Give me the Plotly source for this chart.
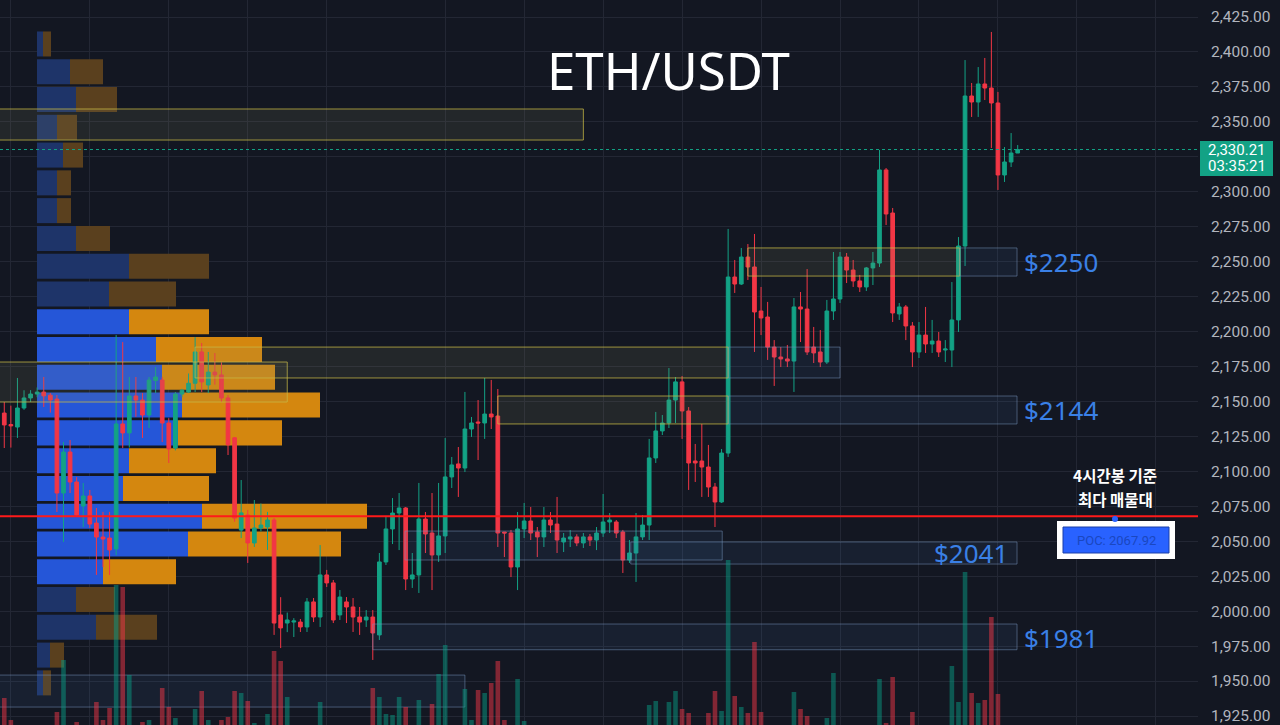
import plotly.graph_objects as go

# ---------------- candle data (4h ETH/USDT) ----------------
opens = [2141.7, 2133.5, 2131.7, 2145.3, 2152.5, 2155.3, 2156.7, 2154.5, 2151.7, 2084.5,
         2113.8, 2092.4, 2075.2, 2082.4, 2063.0, 2053.0, 2052.3, 2044.5, 2133.9, 2127.5,
         2153.9, 2151.0, 2140.3, 2165.0, 2165.3, 2134.6, 2116.7, 2155.3, 2156.7, 2163.0,
         2185.4, 2161.8, 2171.0, 2169.0, 2152.5, 2124.0, 2058.0, 2068.8, 2048.8, 2059.5,
         2060.2, 2065.2, 1997.3, 1991.5, 1992.2, 1992.2, 1988.7, 2006.6, 1995.8, 2025.9,
         2020.2, 1997.3, 2006.6, 2003.0, 1995.8, 1993.7, 1995.8, 1983.0, 2035.2, 2058.8,
         2070.2, 2073.8, 2023.0, 2025.9, 2065.9, 2055.9, 2040.2, 2053.8, 2096.0, 2105.3,
         2102.4, 2130.3, 2135.3, 2134.6, 2141.0, 2139.6, 2056.6, 2055.9, 2031.6, 2058.8,
         2064.5, 2056.6, 2053.1, 2065.2, 2062.3, 2049.5, 2051.6, 2053.1, 2048.8, 2053.1,
         2050.9, 2055.9, 2063.8, 2063.8, 2056.6, 2036.6, 2041.6, 2053.1, 2061.6, 2109.6,
         2128.9, 2134.6, 2151.0, 2164.0, 2143.2, 2107.4, 2107.4, 2103.1, 2088.8, 2078.1,
         2113.1, 2239.0, 2234.0, 2253.3, 2246.2, 2214.7, 2210.4, 2188.9, 2181.8, 2180.4,
         2178.9, 2217.6, 2216.1, 2188.9, 2185.4, 2178.2, 2214.7, 2223.3, 2253.3, 2244.0,
         2236.2, 2231.9, 2245.5, 2249.0, 2315.6, 2284.8, 2212.6, 2217.6, 2204.0, 2185.4,
         2197.5, 2191.1, 2193.2, 2186.8, 2186.8, 2208.3, 2261.2, 2368.5, 2364.2, 2377.1,
         2374.2, 2363.5, 2312.0, 2321.3, 2327.7]
highs = [2149.6, 2147.0, 2166.8, 2158.0, 2158.1, 2160.0, 2167.5, 2156.0, 2154.6, 2121.0,
         2122.4, 2095.9, 2091.7, 2086.7, 2073.8, 2071.0, 2071.0, 2197.5, 2192.5, 2167.5,
         2167.5, 2156.0, 2167.5, 2174.6, 2167.5, 2138.0, 2156.7, 2159.0, 2170.0, 2196.0,
         2191.8, 2185.4, 2184.6, 2178.0, 2154.6, 2124.6, 2093.8, 2072.4, 2079.5, 2077.0,
         2071.0, 2066.6, 2010.0, 1999.0, 1995.0, 1994.4, 2009.4, 2009.4, 2047.3, 2029.5,
         2022.3, 2015.1, 2010.1, 2009.4, 2003.0, 2000.8, 2000.8, 2041.6, 2068.1, 2080.9,
         2084.5, 2074.5, 2041.6, 2091.7, 2070.9, 2084.5, 2091.7, 2123.9, 2110.3, 2117.4,
         2156.8, 2138.9, 2151.0, 2166.8, 2165.4, 2158.9, 2056.6, 2058.1, 2070.9, 2077.4,
         2074.5, 2060.2, 2074.5, 2070.9, 2081.7, 2055.9, 2058.0, 2055.0, 2055.9, 2055.2,
         2060.2, 2083.8, 2070.2, 2065.2, 2058.1, 2050.9, 2070.2, 2068.8, 2123.2, 2142.5,
         2140.3, 2173.9, 2167.5, 2168.2, 2146.0, 2119.6, 2133.9, 2118.9, 2091.7, 2116.0,
         2273.4, 2251.2, 2259.8, 2262.6, 2269.8, 2231.9, 2221.2, 2193.9, 2188.9, 2190.4,
         2224.0, 2228.3, 2244.7, 2203.3, 2201.1, 2222.6, 2256.9, 2256.9, 2256.2, 2251.2,
         2240.5, 2246.2, 2256.9, 2329.9, 2317.0, 2288.4, 2220.4, 2219.0, 2206.8, 2206.8,
         2217.6, 2208.3, 2199.7, 2193.9, 2235.4, 2267.6, 2394.2, 2377.8, 2389.2, 2395.7,
         2414.3, 2371.4, 2332.0, 2342.0, 2333.4]
lows = [2116.7, 2117.0, 2123.9, 2144.0, 2149.6, 2153.0, 2146.0, 2142.0, 2070.9, 2049.5,
        2084.5, 2067.4, 2060.2, 2059.5, 2025.9, 2031.6, 2025.9, 2040.0, 2116.7, 2117.0,
        2139.0, 2123.9, 2131.0, 2156.0, 2121.0, 2106.0, 2115.0, 2153.0, 2156.0, 2156.7,
        2156.7, 2156.0, 2162.0, 2149.6, 2111.7, 2064.0, 2052.3, 2034.5, 2045.9, 2057.0,
        2043.8, 1983.0, 1973.6, 1985.0, 1981.5, 1985.1, 1985.1, 1992.2, 1988.7, 2017.3,
        1991.5, 1993.7, 1991.5, 1985.1, 1983.0, 1988.7, 1965.1, 1979.4, 2033.0, 2048.0,
        2043.7, 2015.1, 2016.6, 2013.0, 2041.6, 2015.1, 2035.2, 2041.6, 2088.1, 2081.7,
        2099.5, 2124.6, 2108.1, 2123.2, 2130.3, 2045.9, 2038.7, 2024.4, 2015.1, 2052.3,
        2050.9, 2038.7, 2045.9, 2055.9, 2041.6, 2042.3, 2045.9, 2046.5, 2045.2, 2046.6,
        2043.7, 2053.1, 2055.9, 2052.3, 2027.3, 2034.5, 2020.9, 2050.9, 2050.9, 2106.0,
        2126.0, 2131.0, 2134.6, 2123.2, 2086.7, 2092.4, 2081.7, 2081.7, 2060.2, 2077.4,
        2110.3, 2227.6, 2233.3, 2236.9, 2185.4, 2197.5, 2179.7, 2161.1, 2174.6, 2174.6,
        2156.8, 2192.5, 2183.2, 2177.5, 2174.6, 2176.8, 2208.3, 2220.4, 2234.7, 2231.9,
        2228.3, 2229.0, 2233.3, 2246.2, 2276.2, 2206.8, 2208.3, 2193.9, 2174.6, 2181.1,
        2184.7, 2184.7, 2181.8, 2178.2, 2174.6, 2199.7, 2246.9, 2353.5, 2353.5, 2365.6,
        2331.3, 2301.3, 2307.0, 2317.7, 2327.7]
closes = [2133.2, 2132.5, 2145.3, 2152.5, 2155.3, 2156.7, 2154.0, 2151.0, 2084.5, 2113.8,
          2092.4, 2068.8, 2082.4, 2062.3, 2053.0, 2051.6, 2043.8, 2133.9, 2127.5, 2153.9,
          2151.0, 2140.3, 2165.3, 2167.5, 2134.6, 2116.0, 2155.3, 2158.0, 2163.0, 2185.4,
          2164.0, 2171.0, 2169.0, 2152.5, 2119.0, 2066.6, 2070.3, 2048.8, 2059.5, 2061.6,
          2065.2, 1991.5, 1988.0, 1993.7, 1993.0, 1988.7, 2006.6, 1995.8, 2025.9, 2020.2,
          1993.7, 2010.1, 2003.0, 1995.8, 1992.2, 1995.8, 1984.4, 2035.2, 2058.8, 2070.2,
          2073.8, 2023.0, 2025.9, 2065.9, 2055.2, 2040.2, 2053.8, 2096.0, 2104.6, 2102.4,
          2130.3, 2134.6, 2134.6, 2141.0, 2138.9, 2055.9, 2055.9, 2031.6, 2058.8, 2064.5,
          2055.9, 2053.1, 2065.2, 2061.6, 2050.9, 2052.3, 2053.1, 2048.8, 2053.1, 2050.9,
          2055.9, 2063.8, 2065.2, 2055.9, 2036.6, 2041.6, 2053.1, 2061.6, 2109.6, 2128.9,
          2134.6, 2151.0, 2164.0, 2143.2, 2106.0, 2106.0, 2103.1, 2088.8, 2078.1, 2113.1,
          2239.0, 2234.0, 2253.3, 2246.2, 2214.0, 2209.7, 2188.9, 2181.8, 2180.4, 2178.9,
          2217.6, 2216.1, 2185.4, 2184.7, 2178.2, 2214.7, 2223.3, 2253.3, 2244.0, 2236.2,
          2231.9, 2245.5, 2249.0, 2315.6, 2284.1, 2213.3, 2217.6, 2204.0, 2185.4, 2197.5,
          2191.1, 2193.2, 2185.4, 2187.5, 2208.3, 2261.2, 2368.5, 2364.2, 2377.1, 2374.2,
          2363.5, 2312.0, 2321.3, 2327.7, 2330.21]
volumes = [47, 25, 16, 14, 12, 15, 18, 14, 33, 85,
           18, 23, 16, 18, 43, 25, 37, 160, 158, 70,
           17, 23, 25, 15, 57, 38, 27, 14, 16, 36,
           54, 25, 15, 25, 28, 54, 52, 44, 22, 16,
           31, 94, 84, 48, 18, 16, 19, 17, 43, 15,
           18, 14, 16, 15, 17, 13, 57, 48, 31, 30,
           48, 38, 18, 45, 19, 41, 71, 100, 17, 18,
           56, 25, 55, 52, 62, 84, 25, 19, 66, 24,
           15, 13, 16, 14, 17, 12, 15, 13, 16, 14,
           12, 17, 15, 13, 16, 14, 18, 15, 40, 44,
           19, 43, 54, 36, 32, 17, 19, 32, 54, 34,
           185, 49, 38, 32, 103, 33, 18, 19, 15, 16,
           53, 36, 29, 17, 16, 27, 72, 19, 17, 15,
           14, 16, 18, 66, 22, 68, 17, 19, 33, 15,
           16, 14, 15, 13, 79, 43, 173, 52, 42, 45,
           128, 51, 19, 17, 12]
candle_idx = list(range(len(opens)))

# ---------------- volume profile (rows, top to bottom) ----------------
vp_price = [2405.71, 2385.84, 2365.97, 2346.10, 2326.23, 2306.36, 2286.49, 2266.62,
            2246.75, 2226.88, 2207.01, 2187.14, 2167.27, 2147.40, 2127.53, 2107.66,
            2087.79, 2067.92, 2048.05, 2028.18, 2008.31, 1988.44, 1968.57, 1948.70]
vp_up = [6, 33, 39, 20, 26, 20, 20, 39, 92, 72, 92, 119, 125, 145, 141, 92, 86, 165, 151, 66, 39, 59, 13, 6]
vp_down = [8, 33, 41, 20, 20, 14, 14, 34, 80, 67, 80, 106, 113, 138, 104, 87, 86, 165, 153, 73, 39, 61, 14, 8]
vp_value_area = [False] * 10 + [True] * 10 + [False] * 4
vp_row_height = 17.9

# ---------------- zones ----------------
zone_lo = [2337.0, 2149.6, 2166.8, 2166.8, 2133.9, 2133.9, 2239.7, 2239.7, 2033.7, 2036.6, 1972.4, 1931.4]
zone_hi = [2359.2, 2178.2, 2188.9, 2188.9, 2153.9, 2153.9, 2259.8, 2259.8, 2049.5, 2057.3, 1990.8, 1954.3]
zone_x0 = [-3, -3, 29.0, 110.0, 75.0, 110.0, 113.0, 145.2, 95.2, 60.9, 56.0, -3]
zone_x1 = [88.0, 43.0, 110.0, 127.0, 110.0, 153.9, 145.2, 153.9, 153.9, 109.1, 153.9, 70.0]
zone_kind = ["y", "y", "y", "b", "y", "b", "y", "b", "b", "b", "b", "b"]

level_labels = ["$2250", "$2144", "$2041", "$1981"]
level_prices = [2250, 2144, 2041.6, 1981]

poc_price = 2067.92
last_price = 2330.21
last_price_text = "2,330.21"
countdown_text = "03:35:21"
note_lines = ["4시간봉 기준", "최다 매물대"]
price_ticks = [1925, 1950, 1975, 2000, 2025, 2050, 2075, 2100, 2125, 2150, 2175,
               2200, 2225, 2250, 2275, 2300, 2325, 2350, 2375, 2400, 2425]
price_tick_text = ["1,925.00", "1,950.00", "1,975.00", "2,000.00", "2,025.00", "2,050.00",
                   "2,075.00", "2,100.00", "2,125.00", "2,150.00", "2,175.00", "2,200.00",
                   "2,225.00", "2,250.00", "2,275.00", "2,300.00", "", "2,350.00",
                   "2,375.00", "2,400.00", "2,425.00"]
time_grid = [1, 13, 25, 37, 49, 67, 79, 91, 103, 115, 127, 139, 151, 163, 175]

BG = "#131722"
GRID = "#232734"
UP = "#13a285"
DN = "#f23645"
W, H = 1280, 725
PW = 1198  # plot width in px

def px(x):
    return x / PW

def py(y):
    return 1 - y / H

fig = go.Figure()

# volume profile (main subplot, drawn lowest)
up_cols = ["#2556d8" if v else "#1e3469" for v in vp_value_area]
dn_cols = ["#d4870f" if v else "#5a401e" for v in vp_value_area]
fig.add_trace(go.Bar(y=vp_price, x=vp_up, base=0, orientation="h", width=vp_row_height,
                     marker=dict(color=up_cols, line=dict(width=0)), xaxis="x", yaxis="y",
                     showlegend=False, hoverinfo="skip"))
fig.add_trace(go.Bar(y=vp_price, x=vp_down, base=vp_up, orientation="h", width=vp_row_height,
                     marker=dict(color=dn_cols, line=dict(width=0)), xaxis="x", yaxis="y",
                     showlegend=False, hoverinfo="skip"))

# zones
for lo, hi, x0, x1, k in zip(zone_lo, zone_hi, zone_x0, zone_x1, zone_kind):
    if k == "y":
        lc, fc = "rgba(200,185,70,0.75)", "rgba(150,150,100,0.13)"
    else:
        lc, fc = "rgba(120,150,190,0.5)", "rgba(80,130,200,0.09)"
    fig.add_trace(go.Scatter(x=[x0, x1, x1, x0, x0], y=[lo, lo, hi, hi, lo], mode="lines",
                             fill="toself", fillcolor=fc, line=dict(color=lc, width=1),
                             xaxis="x2", yaxis="y", showlegend=False, hoverinfo="skip"))

# candles
fig.add_trace(go.Candlestick(x=candle_idx, open=opens, high=highs, low=lows, close=closes,
                             increasing=dict(line=dict(color=UP, width=1), fillcolor=UP),
                             decreasing=dict(line=dict(color=DN, width=1), fillcolor=DN),
                             xaxis="x2", yaxis="y", showlegend=False, hoverinfo="skip"))

# volume
vcols = ["rgba(8,153,129,0.5)" if c >= o else "rgba(242,54,69,0.5)" for o, c in zip(opens, closes)]
fig.add_trace(go.Bar(x=candle_idx, y=volumes, width=0.7, marker=dict(color=vcols, line=dict(width=0)),
                     xaxis="x2", yaxis="y2", showlegend=False, hoverinfo="skip"))

shapes = [
    dict(type="line", xref="paper", yref="y", x0=0, x1=1, y0=last_price, y1=last_price,
         line=dict(color=UP, width=1, dash="dot"), layer="above"),
    dict(type="line", xref="paper", yref="y", x0=0, x1=1, y0=poc_price, y1=poc_price,
         line=dict(color="#ff1a1a", width=2), layer="above"),
    dict(type="rect", xref="paper", yref="paper", x0=px(1057), x1=px(1175), y0=py(559), y1=py(521),
         fillcolor="white", line=dict(width=0), layer="above"),
    dict(type="rect", xref="paper", yref="paper", x0=px(1063), x1=px(1169), y0=py(553), y1=py(527),
         fillcolor="#2962ff", line=dict(color="#1a3fa8", width=1), layer="above"),
    dict(type="circle", xref="paper", yref="paper", x0=px(1112), x1=px(1118), y0=py(522), y1=py(516),
         fillcolor="#2962ff", line=dict(width=0), layer="above"),
    # last price tag on the price scale
    dict(type="rect", xref="paper", yref="paper", x0=px(1200), x1=px(1273), y0=py(176), y1=py(141),
         fillcolor=UP, line=dict(width=0), layer="above"),
]

annotations = [
    dict(text="ETH/USDT", xref="paper", yref="paper", x=px(668), y=py(70), showarrow=False,
         font=dict(family="Noto Sans", size=51, color="white"), xanchor="center", yanchor="middle"),
    dict(text=note_lines[0], xref="paper", yref="paper", x=px(1115), y=py(475),
         showarrow=False, borderpad=0,
         font=dict(family="Noto Sans CJK KR", size=15.5, color="white", weight="bold"),
         xanchor="center", yanchor="middle"),
    dict(text=note_lines[1], xref="paper", yref="paper", x=px(1115), y=py(499),
         showarrow=False, borderpad=0,
         font=dict(family="Noto Sans CJK KR", size=15.5, color="white", weight="bold"),
         xanchor="center", yanchor="middle"),
    dict(text="POC: 2067.92", xref="paper", yref="paper", x=px(1116), y=py(540), showarrow=False,
         font=dict(family="Roboto", size=13, color="#1a47c0"), xanchor="center", yanchor="middle"),
    dict(text=last_price_text, xref="paper", yref="paper", x=px(1236.5), y=py(150),
         showarrow=False, xanchor="center", yanchor="middle", borderpad=0,
         font=dict(family="Roboto", size=15, color="white")),
    dict(text=countdown_text, xref="paper", yref="paper", x=px(1236.5), y=py(166.5),
         showarrow=False, xanchor="center", yanchor="middle", borderpad=0,
         font=dict(family="Roboto", size=15, color="white")),
]
for lab, p in zip(level_labels, level_prices):
    if lab == "$2041":
        annotations.append(dict(text=lab, xref="x2", yref="y", x=152.9, y=p, showarrow=False,
                                xanchor="right", yanchor="middle",
                                font=dict(family="Noto Sans", size=26, color="#3a80e6")))
    else:
        annotations.append(dict(text=lab, xref="x2", yref="y", x=154.7, y=p, showarrow=False,
                                xanchor="left", yanchor="middle",
                                font=dict(family="Noto Sans", size=26, color="#3a80e6")))

fig.update_layout(
    width=W, height=H, margin=dict(l=0, r=W - PW, t=0, b=0),
    paper_bgcolor=BG, plot_bgcolor=BG, barmode="overlay", boxgap=0.2,
    showlegend=False, hovermode=False,
    xaxis=dict(range=[-37, PW - 37], visible=False, fixedrange=True, rangeslider=dict(visible=False)),
    yaxis=dict(range=[1918.57, 2437.16], side="right", tickvals=price_ticks, ticktext=price_tick_text,
               showgrid=True, gridcolor=GRID, gridwidth=1, zeroline=False, showline=False,
               ticks="", ticklabelstandoff=12, ticklabeloverflow="allow",
               tickfont=dict(family="Roboto", size=15.5, color="#b2b5be"), fixedrange=True),
    xaxis2=dict(overlaying="x", anchor="y", range=[-0.65, 181.4], tickvals=time_grid,
                showticklabels=False, showgrid=True, gridcolor=GRID, zeroline=False,
                rangeslider=dict(visible=False), fixedrange=True),
    yaxis2=dict(overlaying="y", anchor="x2", range=[20, 745], visible=False, fixedrange=True),
    shapes=shapes, annotations=annotations,
)

fig.write_html("out.html", config={"displayModeBar": False},
               post_script="document.body.style.margin='0';document.body.style.background='#131722';")
